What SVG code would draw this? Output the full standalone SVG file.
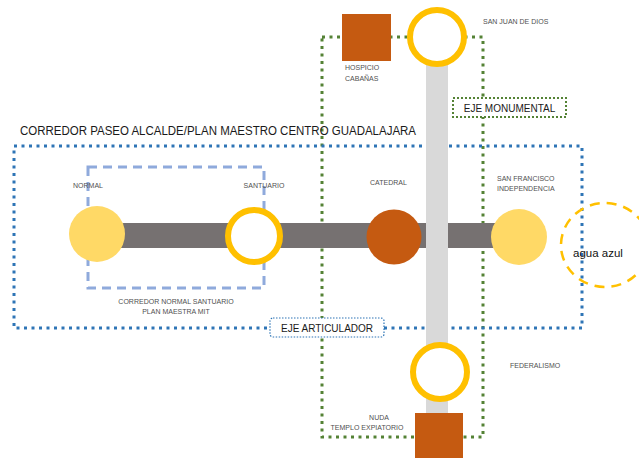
<svg xmlns="http://www.w3.org/2000/svg" width="639" height="458" viewBox="0 0 639 458">
<style>
.lbl{font-family:"Liberation Sans",Arial,sans-serif;font-size:7px;fill:#505050}
.ttl{font-family:"Liberation Sans",Arial,sans-serif;font-size:12px;fill:#1a1a1a}
.box{font-family:"Liberation Sans",Arial,sans-serif;font-size:10px;fill:#1a1a1a}
.green{fill:none;stroke:#548235;stroke-width:3;stroke-dasharray:3 4.5}
.blue{fill:none;stroke:#2E75B6;stroke-width:3;stroke-dasharray:3 4.5}
.ring{fill:#fff;stroke:#FFC000;stroke-width:6}
.sun{fill:#FFD966}
.brown{fill:#C55A11}
</style>
<rect width="639" height="458" fill="#fff"/>
<g id="frames">
<rect class="green" x="322" y="37" width="161" height="400"/>
<rect class="blue" x="14" y="146" width="568" height="182"/>
<rect x="88" y="167" width="176" height="121" fill="none" stroke="#8FAADC" stroke-width="3" stroke-dasharray="9 6"/>
<ellipse cx="605" cy="245" rx="44" ry="42" fill="none" stroke="#FFC000" stroke-width="2.5" stroke-dasharray="10 7"/>
</g>
<g id="connectors">
<rect x="97" y="223" width="423" height="25" fill="#767171"/>
<rect x="426" y="55" width="22" height="370" fill="#D9D9D9"/>
</g>
<g id="title"><text class="ttl" x="20" y="135" textLength="396" lengthAdjust="spacingAndGlyphs">CORREDOR PASEO  ALCALDE/PLAN MAESTRO CENTRO GUADALAJARA</text></g>
<g id="hospicio">
<rect class="brown" x="342" y="14" width="49" height="47"/>
<text class="lbl" x="345" y="70">HOSPICIO</text>
<text class="lbl" x="345" y="81">CABAÑAS</text>
</g>
<g id="sanjuan">
<circle class="ring" cx="437" cy="37" r="27"/>
<text class="lbl" x="483" y="24">SAN JUAN DE DIOS</text>
</g>
<g id="eje-monumental">
<rect x="453" y="98" width="113" height="19" fill="#fff" stroke="#548235" stroke-width="2" stroke-dasharray="2 2"/>
<text class="box" x="509.5" y="111.5" text-anchor="middle">EJE MONUMENTAL</text>
</g>
<g id="normal">
<circle class="sun" cx="97" cy="234" r="28"/>
<text class="lbl" x="88" y="188" text-anchor="middle">NORMAL</text>
</g>
<g id="santuario">
<circle class="ring" cx="254" cy="236" r="26"/>
<text class="lbl" x="264" y="188" text-anchor="middle">SANTUARIO</text>
</g>
<g id="catedral">
<circle class="brown" cx="394" cy="237" r="27.5"/>
<text class="lbl" x="370" y="185">CATEDRAL</text>
</g>
<g id="sanfrancisco">
<circle class="sun" cx="519" cy="237" r="28"/>
<text class="lbl" x="497" y="181">SAN FRANCISCO</text>
<text class="lbl" x="497" y="191">INDEPENDENCIA</text>
</g>
<g id="aguaazul">
<text x="573" y="257" font-family="Liberation Sans,Arial,sans-serif" font-size="11.5" fill="#111">agua azul</text>
</g>
<g id="corredor-normal">
<text class="lbl" x="176" y="304" text-anchor="middle">CORREDOR NORMAL SANTUARIO</text>
<text class="lbl" x="176" y="314" text-anchor="middle">PLAN MAESTRA MIT</text>
</g>
<g id="eje-articulador">
<rect x="270" y="318" width="114" height="19" rx="3" fill="#fff" stroke="#2E75B6" stroke-width="1.2" stroke-dasharray="1.5 1.5"/>
<text class="box" x="327" y="331.5" text-anchor="middle">EJE ARTICULADOR</text>
</g>
<g id="federalismo">
<circle class="ring" cx="440" cy="372" r="27"/>
<text class="lbl" x="510" y="368">FEDERALISMO</text>
</g>
<g id="expiatorio">
<rect class="brown" x="415" y="413" width="48" height="45"/>
<text class="lbl" x="379" y="420" text-anchor="middle">NUDA</text>
<text class="lbl" x="367" y="430" text-anchor="middle">TEMPLO EXPIATORIO</text>
</g>
</svg>
